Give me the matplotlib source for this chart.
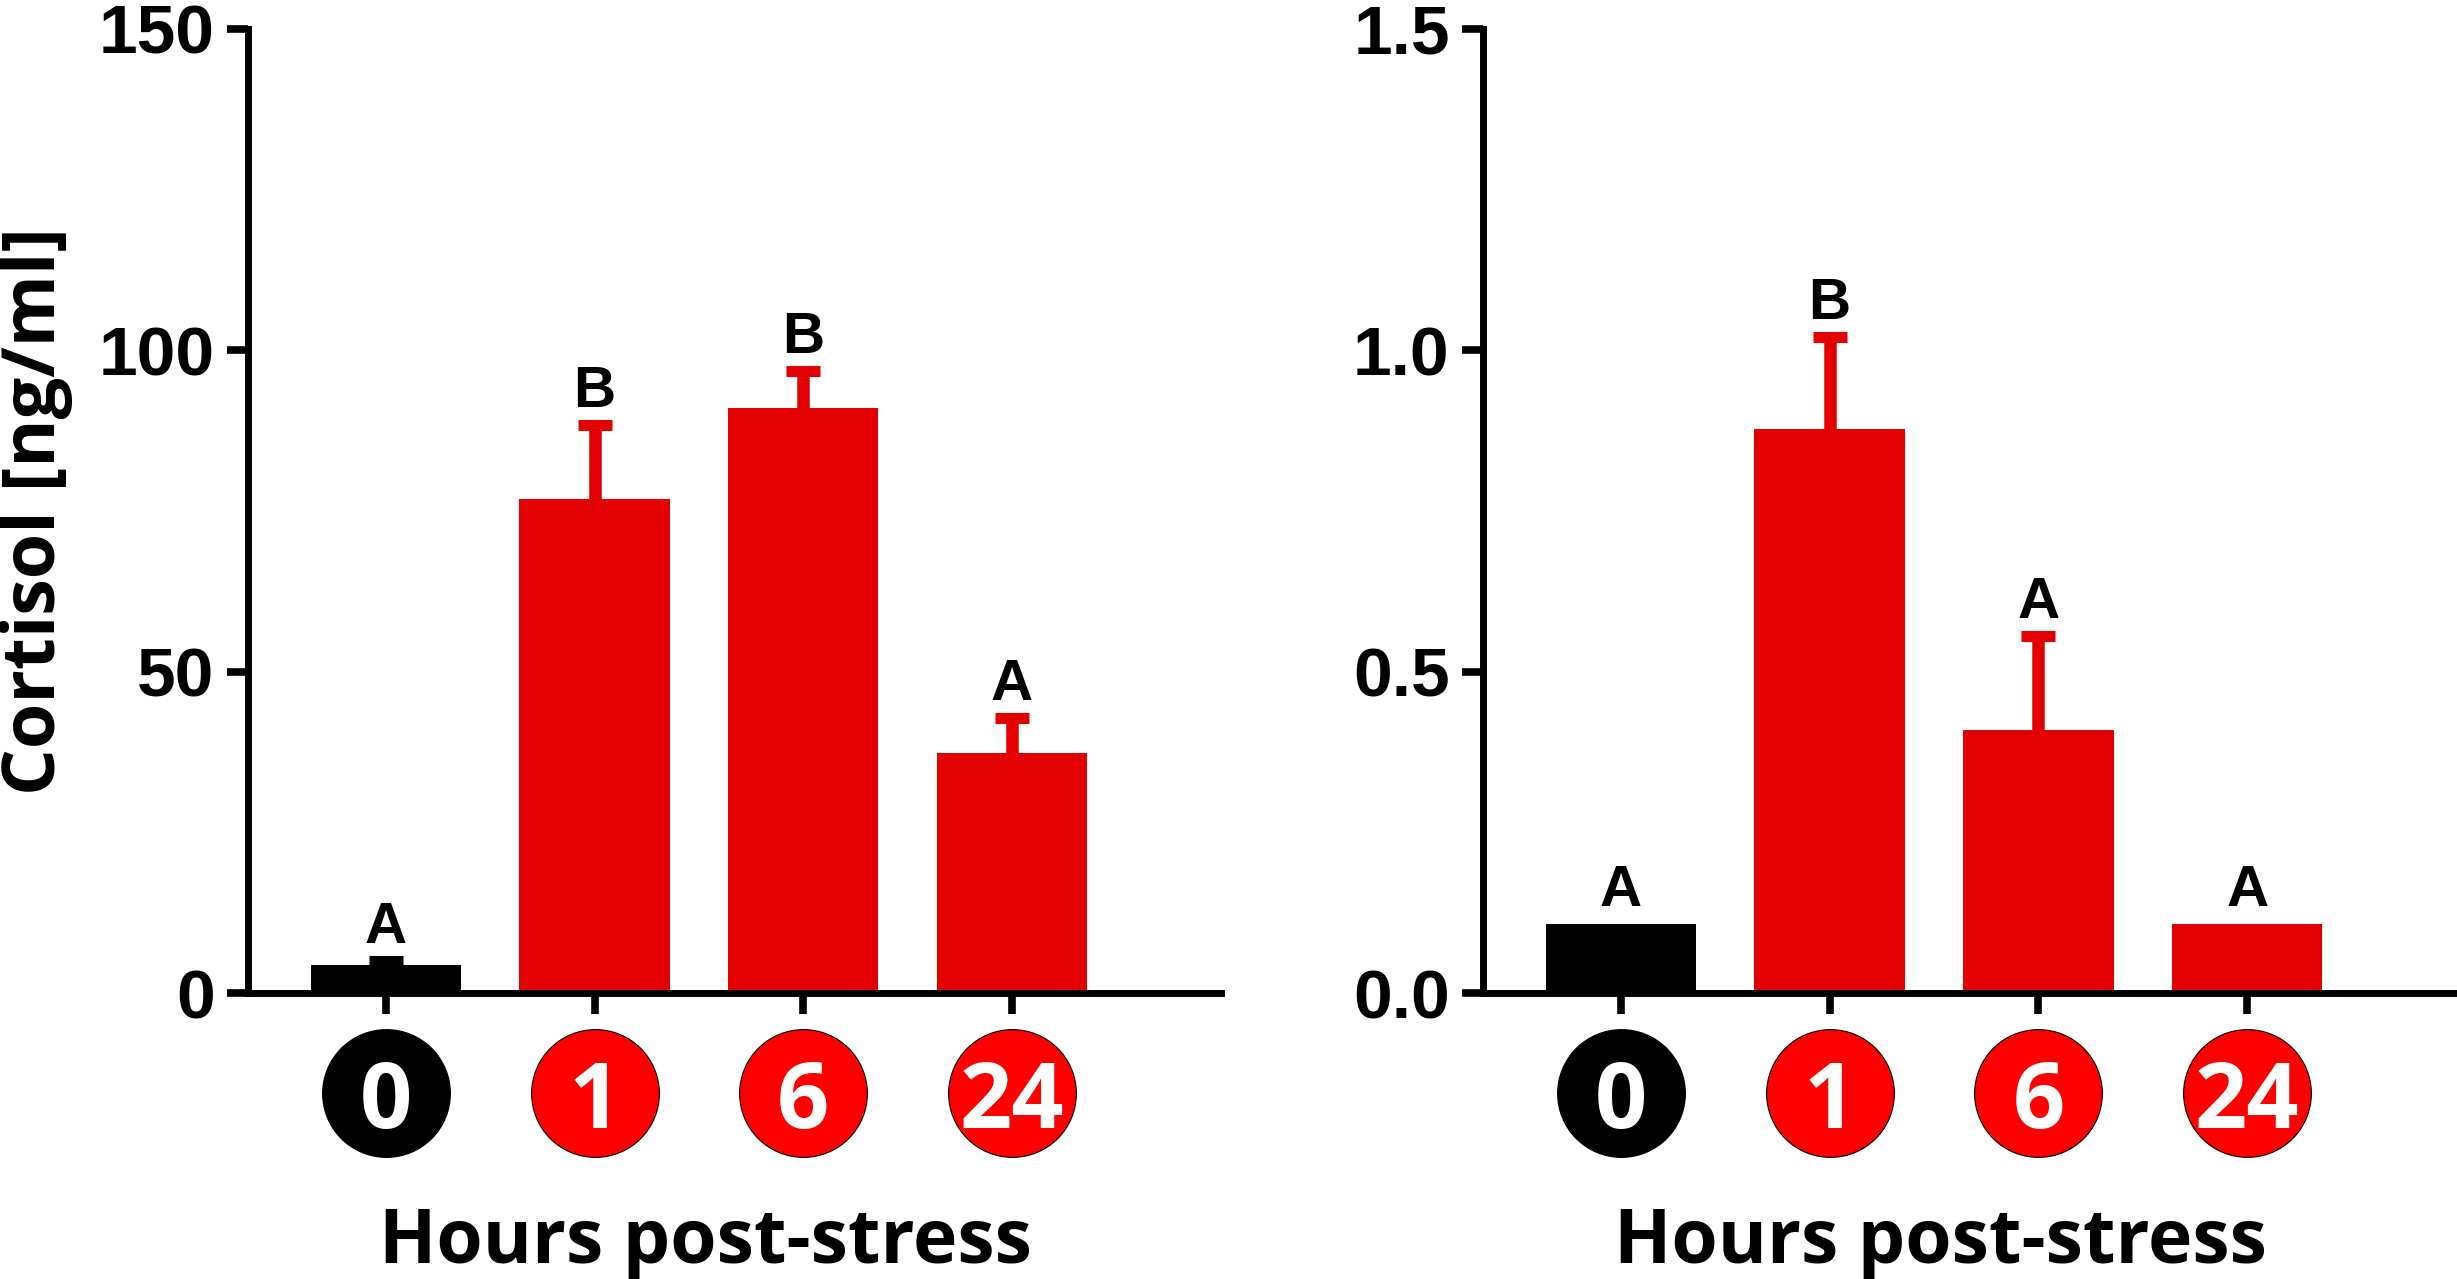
import matplotlib.pyplot as plt
import numpy as np

# x categories (hours post-stress)
hours = ["0", "1", "6", "24"]
bar_colors = ["black", "#E30000", "#E30000", "#E30000"]
circle_colors = ["black", "#FF0000", "#FF0000", "#FF0000"]

# left panel: cortisol, ng/ml
left_mean = [4.3, 76.9, 91.0, 37.3]
left_err = [0.7, 11.4, 5.7, 5.5]
left_letters = ["A", "B", "B", "A"]
left_ticks = [0, 50, 100, 150]
left_ticklabels = ["0", "50", "100", "150"]

# right panel
right_mean = [0.107, 0.877, 0.409, 0.107]
right_err = [0.0, 0.143, 0.146, 0.0]
right_letters = ["A", "B", "A", "A"]
right_ticks = [0.0, 0.5, 1.0, 1.5]
right_ticklabels = ["0.0", "0.5", "1.0", "1.5"]

TICK_FONT = "Liberation Sans"
LABEL_FONT = "Open Sans"


def draw_panel(ax, means, errs, letters, ticks, ticklabels):
    x = np.arange(len(hours))
    ax.bar(x, means, width=0.72, color=bar_colors, zorder=2)
    for i in range(len(x)):
        top = means[i] + errs[i]
        if errs[i] > 0:
            # upper-only error bar: stem from bar top, cap at the end
            ax.vlines(x[i], means[i], top, color=bar_colors[i], lw=9, zorder=3)
            ax.plot(x[i], top, marker="_", ms=24, mew=8, color=bar_colors[i], zorder=3)
        ax.annotate(letters[i], (x[i], top), xytext=(0, 13),
                    textcoords="offset points", ha="center", va="baseline",
                    fontsize=42, fontweight="bold", family=TICK_FONT,
                    annotation_clip=False)

    trans = ax.get_xaxis_transform()
    for i in range(len(x)):
        ax.plot(x[i], -0.1037, "o", ms=92, mfc=circle_colors[i], mec="black",
                mew=0.8, transform=trans, clip_on=False)
        ax.text(x[i], -0.140, hours[i], transform=trans, ha="center",
                va="baseline", color="white", fontsize=66, fontweight="bold",
                family=LABEL_FONT)
    ax.text(1.53, -0.280, "Hours post-stress", transform=trans, ha="center",
            va="baseline", fontsize=54, fontweight="bold", family=LABEL_FONT)

    ax.set_xlim(-0.66, 4.0)
    ax.set_ylim(ticks[0], ticks[-1])
    ax.set_xticks(x)
    ax.set_xticklabels([])
    ax.set_yticks(ticks)
    ax.set_yticklabels(ticklabels, fontsize=50, fontweight="bold", family=TICK_FONT)
    ax.tick_params(width=5.5, length=15, pad=9, color="black")
    for side in ["top", "right"]:
        ax.spines[side].set_visible(False)
    for side in ["left", "bottom"]:
        ax.spines[side].set_linewidth(5)


fig = plt.figure(figsize=(24.57, 12.79), dpi=100)
ax1 = fig.add_axes([0.1009, 0.2236, 0.396, 0.7541])
ax2 = fig.add_axes([0.6036, 0.2236, 0.396, 0.7541])

draw_panel(ax1, left_mean, left_err, left_letters, left_ticks, left_ticklabels)
draw_panel(ax2, right_mean, right_err, right_letters, right_ticks, right_ticklabels)

ax1.set_ylabel("Cortisol [ng/ml]", fontsize=53, fontweight="bold", family=LABEL_FONT)
ax1.yaxis.label.set_verticalalignment("center")
ax1.yaxis.set_label_coords(-0.218, 0.5)

fig.savefig("out.png", dpi=100)
